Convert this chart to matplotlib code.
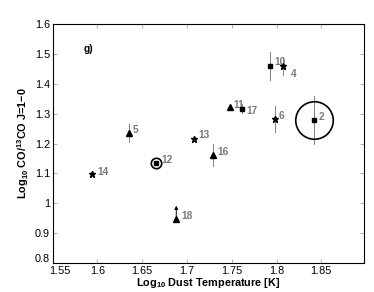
import matplotlib
matplotlib.use('Agg')
import matplotlib.pyplot as plt
import matplotlib.transforms as mtransforms

plt.rcParams['font.family'] = ['Liberation Sans', 'DejaVu Sans']
plt.rcParams['mathtext.fontset'] = 'custom'
plt.rcParams['mathtext.bf'] = 'Liberation Sans:bold'
plt.rcParams['mathtext.rm'] = 'Liberation Sans:bold'
plt.rcParams['mathtext.default'] = 'bf'

# source id, log dust temperature, log CO/13CO ratio, error, marker
names = ['14', '5', '12', '13', '16', '18', '11', '17', '10', '4', '6', '2']
logT = [1.594, 1.635, 1.665, 1.708, 1.729, 1.688, 1.748, 1.761, 1.793, 1.807, 1.798, 1.842]
ratio = [1.098, 1.236, 1.135, 1.216, 1.162, 0.948, 1.321, 1.316, 1.460, 1.460, 1.282, 1.279]
err = [0.0, 0.03, 0.0, 0.008, 0.037, 0.0, 0.0, 0.015, 0.046, 0.03, 0.043, 0.08]
kind = ['*', '^', 's', '*', '^', '^', '^', 's', 's', '*', '*', 's']
# label offsets in pixels
lab_dx = [5, 3.5, 6, 4.4, 4.7, 4.7, 3.7, 5, 4, 8.5, 3.4, 4.2]
lab_dy = [2.5, 2.3, 3, 3.7, 3.3, 3, 2.5, -2, 3.3, -8, 3, 2.7]

# ringed sources (id, ring diameter in points)
ring_ids = ['12', '2']
ring_size = [7.5, 27]

# lower limit for 18
limit_id = '18'
limit_top = 0.992

xticks = [1.55, 1.6, 1.65, 1.7, 1.75, 1.8, 1.85]
yticks = [0.8, 0.9, 1.0, 1.1, 1.2, 1.3, 1.4, 1.5, 1.6]

fig = plt.figure(figsize=(3.74, 2.92), dpi=100)
ax = fig.add_axes([0.141, 0.099, 0.833, 0.819])

msize = {'*': 5.0, '^': 4.6, 's': 3.0}
for n, x, y, e, k, dx, dy in zip(names, logT, ratio, err, kind, lab_dx, lab_dy):
    if e > 0:
        ax.plot([x, x], [y - e, y + e], color='#808080', lw=0.7, zorder=1)
    ax.plot(x, y, marker=k, color='black', ms=msize[k], ls='none', zorder=3)
    ax.annotate(n, (x, y), xytext=(dx, dy), textcoords='offset pixels',
                fontsize=7.3, fontweight='bold', color='#7a7a7a',
                ha='left', va='center')

for rid, rs in zip(ring_ids, ring_size):
    i = names.index(rid)
    ax.plot(logT[i], ratio[i], marker='o', mfc='none', mec='black',
            ms=rs, mew=1.2, ls='none', zorder=2)

i = names.index(limit_id)
ax.annotate('', xy=(logT[i], limit_top), xytext=(logT[i], ratio[i]),
            arrowprops=dict(arrowstyle='-|>', color='black', lw=0.7,
                            mutation_scale=5, shrinkA=0, shrinkB=0))

ax.text(1.585, 1.516, 'g)', fontsize=7.3, fontweight='bold', ha='left', va='center')

ax.set_xlim(1.55, 1.898)
ax.set_ylim(0.8, 1.6)
ax.set_xticks(xticks)
ax.set_xticklabels(['%g' % t for t in xticks])
ax.set_yticks(yticks)
ax.set_yticklabels(['%g' % t for t in yticks])
ax.tick_params(direction='in', length=3, width=0.5, color='#909090',
               labelsize=7.8, top=True, right=True, pad=2)
for s in ax.spines.values():
    s.set_linewidth(0.8)

# nudge the corner labels apart, as in the original
fig.canvas.draw()
ax.get_yticklabels()[0].set_transform(ax.get_yticklabels()[0].get_transform() +
                                      mtransforms.ScaledTranslation(0, 4 / 72, fig.dpi_scale_trans))
ax.get_xticklabels()[0].set_transform(ax.get_xticklabels()[0].get_transform() +
                                      mtransforms.ScaledTranslation(5 / 72, 0, fig.dpi_scale_trans))

ax.set_xlabel(r'Log$_{10}$ Dust Temperature [K]', fontsize=7.8,
              fontweight='bold', labelpad=0)
ax.set_ylabel(r'Log$_{10}$ CO/$^{13}$CO J=1$-$0', fontsize=7.8,
              fontweight='bold', labelpad=3)

fig.savefig('out.png', dpi=100)
